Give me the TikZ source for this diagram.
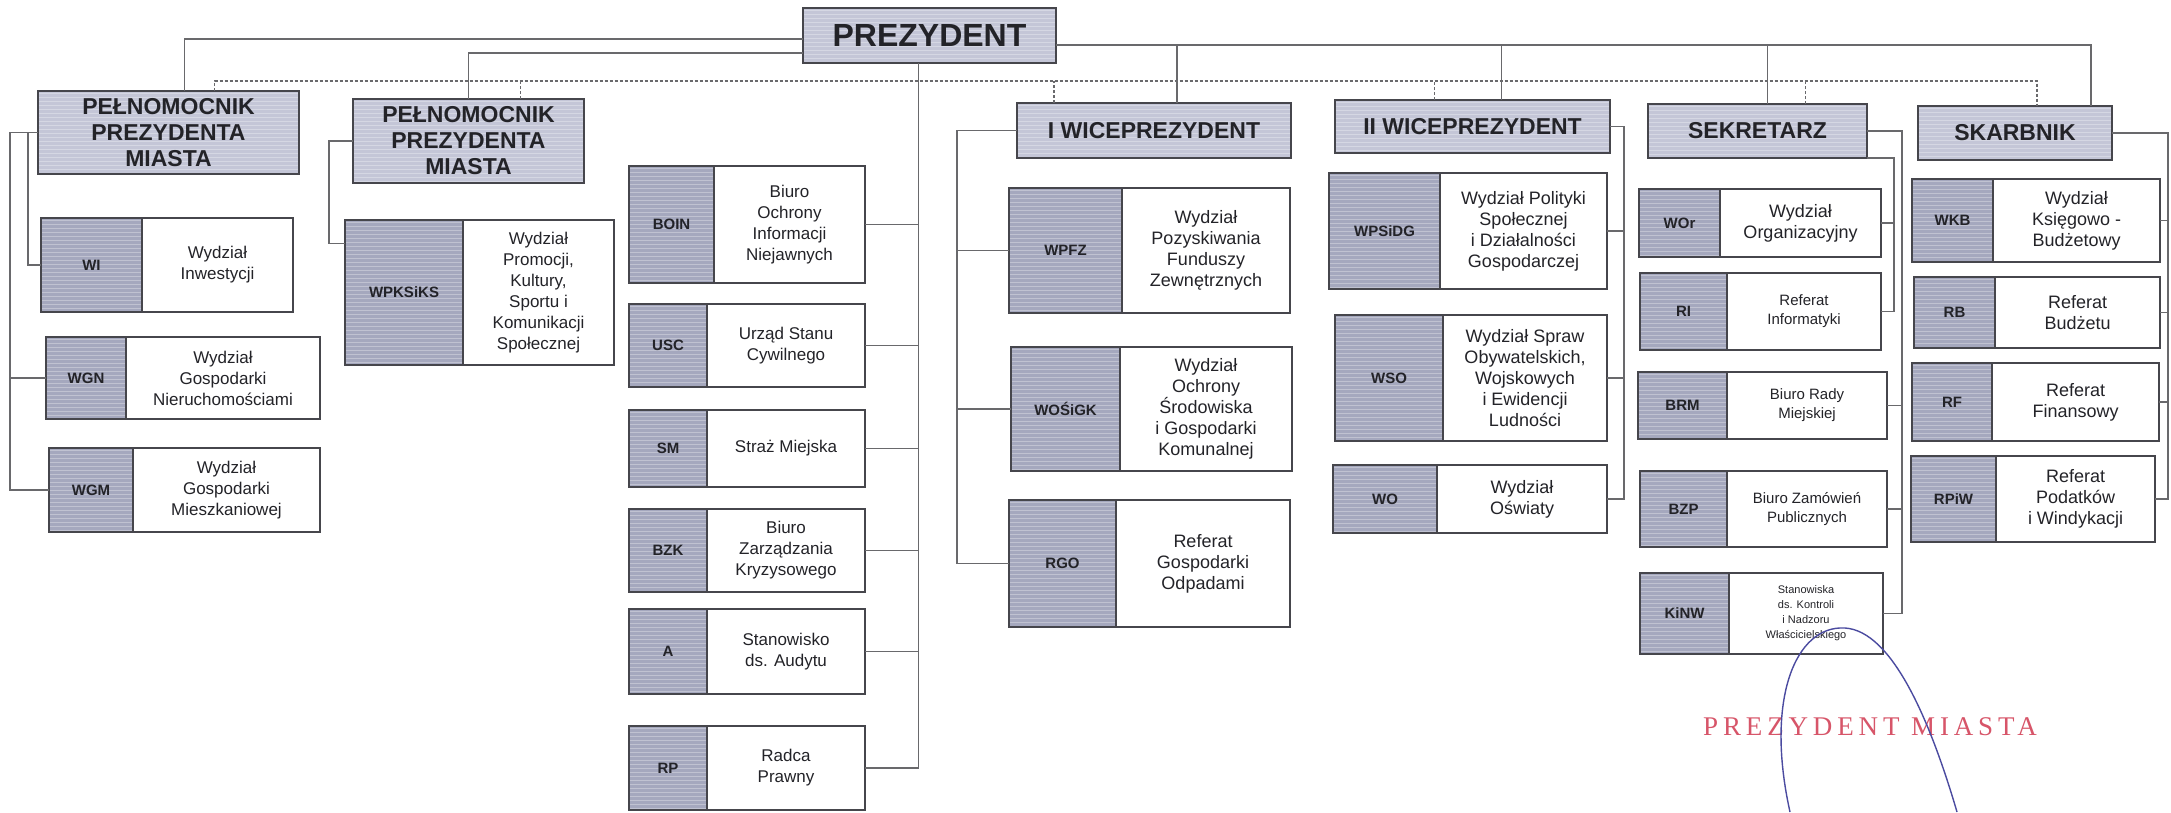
\documentclass[tikz,border=0pt]{standalone}
\usepackage{fontspec}
\setmainfont{Liberation Sans}
\newfontfamily\stampfont[LetterSpace=18]{Liberation Serif}
\usepackage{tikz}
\usetikzlibrary{calc}

\definecolor{leaderfill}{RGB}{196,198,215}
\definecolor{codefill}{RGB}{165,168,190}
\definecolor{boxgray}{RGB}{70,70,76}
\definecolor{conngray}{RGB}{105,105,108}
\definecolor{textgray}{RGB}{35,35,40}
\definecolor{stampred}{RGB}{215,85,105}
\definecolor{signblue}{RGB}{75,75,160}

\begin{document}
\begin{tikzpicture}[x=1pt,y=-1pt,
	boxline/.style={draw=boxgray, line width=1.6pt, inner sep=0pt, outer sep=0pt, text=textgray},
	stripes/.style={path picture={\foreach \k in {2,6,...,150} \draw[white,opacity=0.3,line width=0.8pt] ([yshift=-\k pt]path picture bounding box.north west) -- ([yshift=-\k pt]path picture bounding box.north east);}},
	leader/.style={boxline, stripes, fill=leaderfill, align=center, anchor=north west, font=\fontsize{23}{26}\selectfont\bfseries},
	codecell/.style={boxline, stripes, fill=codefill, anchor=north west, font=\fontsize{15}{18}\selectfont\bfseries},
	desccell/.style={boxline, fill=white, align=center, anchor=north west},
	conn/.style={draw=conngray, line width=1.3pt},
	dotline/.style={draw=conngray, line width=1.3pt, dash pattern=on 3pt off 2pt},
	stamp/.style={text=stampred, font=\stampfont\fontsize{27}{30}\selectfont},
	sign/.style={draw=signblue, line width=1.4pt}]
		\useasboundingbox[fill=white] (0,0) rectangle (2171,812);
		
		% The leaders
		\node[leader, minimum width=253pt, minimum height=55pt, font=\fontsize{32}{36}\selectfont\bfseries] (prez) at (803,8) {PREZYDENT};
		\node[leader, minimum width=261pt, minimum height=83pt] (pel1) at (38,91) {PEŁNOMOCNIK\\PREZYDENTA\\MIASTA};
		\node[leader, minimum width=231pt, minimum height=84pt] (pel2) at (353,99) {PEŁNOMOCNIK\\PREZYDENTA\\MIASTA};
		\node[leader, minimum width=274pt, minimum height=55pt] (wice1) at (1017,103) {I WICEPREZYDENT};
		\node[leader, minimum width=275pt, minimum height=53pt] (wice2) at (1335,100) {II WICEPREZYDENT};
		\node[leader, minimum width=219pt, minimum height=54pt] (sekr) at (1648,104) {SEKRETARZ};
		\node[leader, minimum width=194pt, minimum height=54pt] (skarb) at (1918,106) {SKARBNIK};
		
		% The units
		\foreach \n/\x/\y/\cw/\w/\h/\fs/\ls/\code/\desc in {
			WI/41/218/101/252/94/17/21/WI/{Wydział\\Inwestycji},
			WGN/46/337/80/274/82/17/21/WGN/{Wydział\\Gospodarki\\Nieruchomościami},
			WGM/49/448/84/271/84/17/21/WGM/{Wydział\\Gospodarki\\Mieszkaniowej},
			WPKSiKS/345/220/118/269/145/17/21/WPKSiKS/{Wydział\\Promocji,\\Kultury,\\Sportu i\\Komunikacji\\Społecznej},
			BOIN/629/166/85/236/117/17/21/BOIN/{Biuro\\Ochrony\\Informacji\\Niejawnych},
			USC/629/304/78/236/83/17/21/USC/{Urząd Stanu\\Cywilnego},
			SM/629/410/78/236/77/17/21/SM/{Straż Miejska},
			BZK/629/509/78/236/83/17/21/BZK/{Biuro\\Zarządzania\\Kryzysowego},
			A/629/609/78/236/85/17/21/A/{Stanowisko\\ds. Audytu},
			RP/629/726/78/236/84/17/21/RP/{Radca\\Prawny},
			WPFZ/1009/188/113/281/125/18/21/WPFZ/{Wydział\\Pozyskiwania\\Funduszy\\Zewnętrznych},
			WOSiGK/1011/347/109/281/124/18/21/WOŚiGK/{Wydział\\Ochrony\\Środowiska\\i Gospodarki\\Komunalnej},
			RGO/1009/500/107/281/127/18/21/RGO/{Referat\\Gospodarki\\Odpadami},
			WPSiDG/1329/173/111/278/116/18/21/WPSiDG/{Wydział Polityki\\Społecznej\\i Działalności\\Gospodarczej},
			WSO/1335/315/108/272/126/18/21/WSO/{Wydział Spraw\\Obywatelskich,\\Wojskowych\\i Ewidencji\\Ludności},
			WO/1333/465/104/274/68/18/21/WO/{Wydział\\Oświaty},
			WOr/1639/189/81/242/68/18/21/WOr/{Wydział\\Organizacyjny},
			RI/1640/273/87/241/77/15/19/RI/{Referat\\Informatyki},
			BRM/1638/372/89/249/67/15/19/BRM/{Biuro Rady\\Miejskiej},
			BZP/1640/471/87/247/76/15/19/BZP/{Biuro Zamówień\\Publicznych},
			KiNW/1640/573/89/243/81/11/15/KiNW/{Stanowiska\\ds. Kontroli\\i Nadzoru\\Właścicielskiego},
			WKB/1912/179/81/248/83/18/21/WKB/{Wydział\\Księgowo -\\Budżetowy},
			RB/1914/277/81/246/71/18/21/RB/{Referat\\Budżetu},
			RF/1912/363/80/247/78/18/21/RF/{Referat\\Finansowy},
			RPiW/1911/456/85/244/86/18/21/RPiW/{Referat\\Podatków\\i Windykacji}}
		{
			\node[codecell, minimum width=\cw pt, minimum height=\h pt] (\n) at (\x,\y) {\code};
			\node[desccell, minimum width={(\w-\cw)*1pt}, minimum height=\h pt, font=\fontsize{\fs}{\ls}\selectfont] (\n-t) at (\n.north east) {\desc};
		}
		
		% Lines from the president
		\draw[conn] ($(prez.north west)+(0,31)$) -| ($(pel1.north)+(16,0)$);
		\draw[conn] ($(prez.north west)+(0,45)$) -| (pel2.north);
		\draw[conn] ($(prez.north east)+(0,37)$) -| ($(skarb.north)+(76,0)$);
		\foreach \b/\dx/\dy in {wice1/23/58, wice2/29/55, sekr/10/59}
			\draw[conn] ([xshift=\dx pt]\b.north) -- ++(0,-\dy);
		
		% The dotted line
		\draw[dotline] ($(pel1.north)+(46,0)$) -- ++(0,-10) -| ($(skarb.north)+(22,0)$);
		\foreach \b/\dx/\dy in {pel2/52/18, wice1/-100/22, wice2/-38/19, sekr/48/23}
			\draw[dotline] ([xshift=\dx pt]\b.north) -- ++(0,-\dy);
		
		% Units under the president
		\coordinate (pdown) at ($(prez.south)+(-11,0)$);
		\draw[conn] (pdown) |- (RP-t.east);
		\foreach \u in {BOIN,USC,SM,BZK,A}
			\draw[conn] (\u-t.east) -- (\u-t.east -| pdown);
		
		% Pelnomocnicy
		\draw[conn] (pel1.west) -- ++(-28,0) coordinate (p1bus) |- (WGM.west);
		\draw[conn] (WGN.west) -- (WGN.west -| p1bus);
		\draw[conn] ([xshift=-10pt]pel1.west) |- (WI.west);
		\draw[conn] (pel2.west) -- ++(-24,0) |- ([yshift=49pt]WPKSiKS.west);
		
		% I wiceprezydent
		\draw[conn] (wice1.west) -- ++(-60,0) coordinate (w1bus) |- (RGO.west);
		\foreach \u in {WPFZ,WOSiGK}
			\draw[conn] (\u.west) -- (\u.west -| w1bus);
		
		% II wiceprezydent
		\draw[conn] (wice2.east) -- ++(14,0) coordinate (w2bus) |- (WO-t.east);
		\foreach \u in {WPSiDG,WSO}
			\draw[conn] (\u-t.east) -- (\u-t.east -| w2bus);
		
		% Sekretarz
		\draw[conn] (sekr.east) -- ++(35,0) coordinate (sbus) |- (KiNW-t.east);
		\foreach \u in {BRM,BZP}
			\draw[conn] (\u-t.east) -- (\u-t.east -| sbus);
		\draw[conn] (sekr.south east) -- ++(27,0) coordinate (sbus2) |- (RI-t.east);
		\draw[conn] (WOr-t.east) -- (WOr-t.east -| sbus2);
		
		% Skarbnik
		\draw[conn] (skarb.east) -- ++(56,0) coordinate (kbus) |- (RPiW-t.east);
		\foreach \u in {WKB,RB,RF}
			\draw[conn] (\u-t.east) -- (\u-t.east -| kbus);
		
		% Stamp and signature
		\node[stamp] (stampt) at (1870,727) {PREZYDENT MIASTA};
		\draw[sign] (1790,812) .. controls (1765,700) and (1795,625) .. (1845,628) .. controls (1892,631) and (1930,720) .. (1957,812);
	\end{tikzpicture}
\end{document}
